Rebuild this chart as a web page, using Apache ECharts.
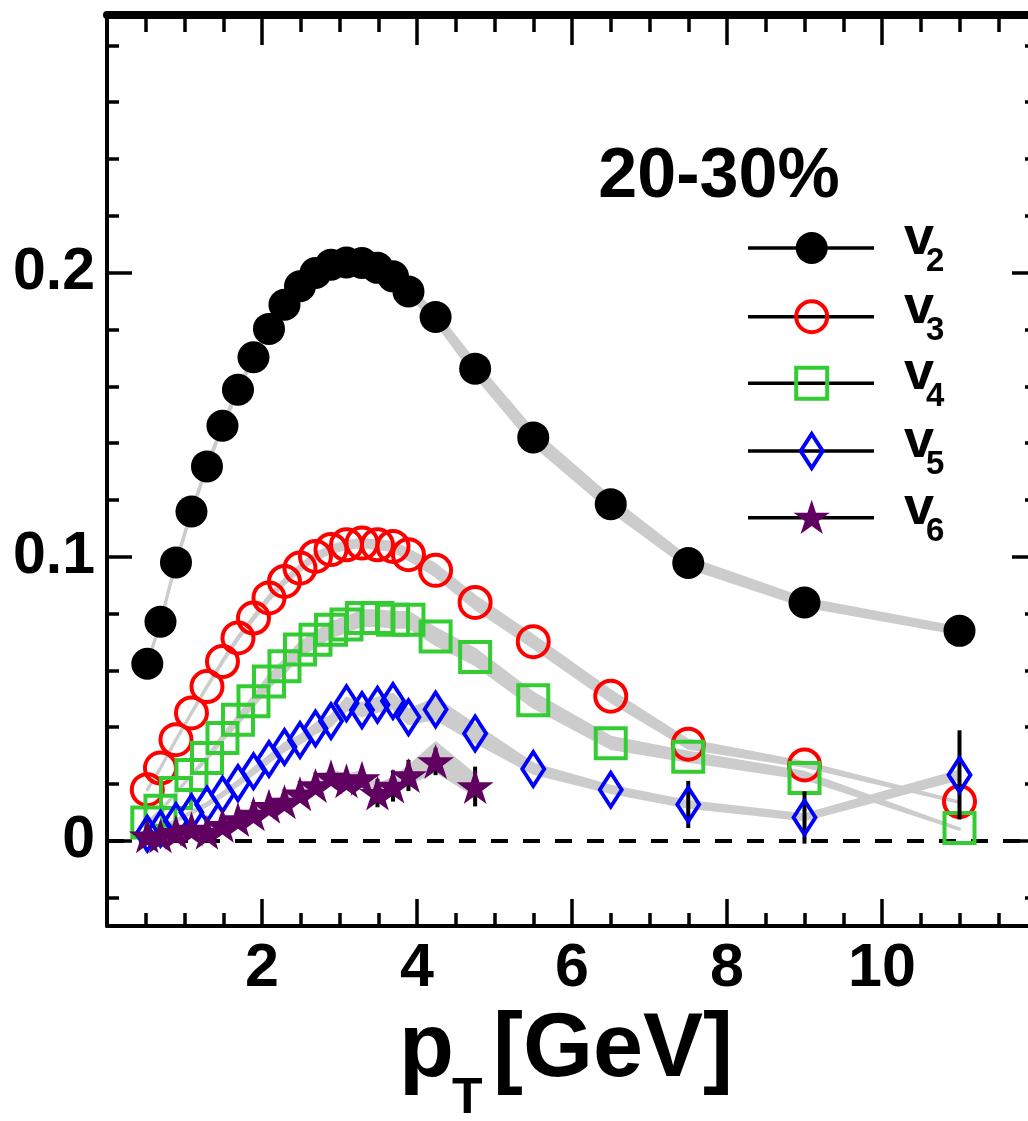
<!DOCTYPE html>
<html>
<head>
<meta charset="utf-8">
<script src="https://cdn.jsdelivr.net/npm/echarts@6/dist/echarts.min.js"></script>
<style>
  html, body { margin: 0; padding: 0; background: #fff; }
  #chart { width: 1028px; height: 1121px; }
</style>
</head>
<body>
<div id="chart"></div>
<script>
// ---- data: flow harmonics v_n(pT), 20-30% centrality ----
// mean pT of each bin [GeV]
const pt = [0.52, 0.69, 0.89, 1.09, 1.29, 1.49, 1.69, 1.89, 2.09, 2.29, 2.49, 2.69, 2.89,
            3.09, 3.29, 3.49, 3.69, 3.89, 4.24, 4.75, 5.5, 6.5, 7.5, 9.0, 11.0];
const ptV6 = [0.52, 0.69, 0.89, 1.09, 1.29, 1.49, 1.69, 1.89, 2.09, 2.29, 2.49, 2.69, 2.89,
              3.09, 3.29, 3.49, 3.69, 3.89, 4.24, 4.75];

const v2 = [0.0623, 0.0771, 0.0980, 0.1159, 0.1318, 0.1461, 0.1588, 0.1702, 0.1802, 0.1887,
            0.1952, 0.1999, 0.2028, 0.2036, 0.2034, 0.2017, 0.1987, 0.1934, 0.1844, 0.1662,
            0.1420, 0.1185, 0.0978, 0.0839, 0.0739];
const v3 = [0.0180, 0.0256, 0.0356, 0.0450, 0.0543, 0.0631, 0.0714, 0.0784, 0.0855, 0.0913,
            0.0960, 0.1001, 0.1025, 0.1042, 0.1048, 0.1042, 0.1036, 0.1007, 0.0952, 0.0839,
            0.0701, 0.0509, 0.0340, 0.0267, 0.0138];
const v4 = [0.0064, 0.0106, 0.0168, 0.0232, 0.0291, 0.0362, 0.0426, 0.0491, 0.0561, 0.0614,
            0.0673, 0.0708, 0.0743, 0.0761, 0.0784, 0.0784, 0.0778, 0.0778, 0.0719, 0.0647,
            0.0495, 0.0343, 0.0296, 0.0221, 0.0045];
const v5 = [0.0025, 0.0042, 0.0070, 0.0100, 0.0128, 0.0163, 0.0203, 0.0245, 0.0288, 0.0330,
            0.0355, 0.0395, 0.0422, 0.0484, 0.0460, 0.0479, 0.0492, 0.0435, 0.0462, 0.0378,
            0.0253, 0.0180, 0.0128, 0.0082, 0.0232];
const v6 = [0.0018, 0.0018, 0.0030, 0.0042, 0.0030, 0.0055, 0.0075, 0.0095, 0.0122, 0.0137,
            0.0166, 0.0195, 0.0225, 0.0211, 0.0220, 0.0168, 0.0193, 0.0230, 0.0279, 0.0191];

// statistical errors (0 = smaller than the marker)
const v5Err = [0, 0, 0, 0, 0, 0, 0, 0, 0, 0, 0, 0, 0, 0, 0, 0, 0, 0, 0, 0, 0, 0, 0.0083, 0.0092, 0.0157];
const v6Err = [0, 0, 0, 0, 0, 0, 0, 0, 0, 0, 0, 0, 0, 0, 0, 0.0050, 0.0055, 0.0055, 0.0048, 0.0070];

// model calculations: [pT, lower, upper]
const v2Band = [[0.52, 0.0620, 0.0624], [0.69, 0.0768, 0.0774], [0.89, 0.0977, 0.0983],
  [1.09, 0.1155, 0.1163], [1.29, 0.1314, 0.1322], [1.49, 0.1456, 0.1466], [1.69, 0.1583, 0.1593],
  [1.89, 0.1697, 0.1707], [2.09, 0.1797, 0.1807], [2.29, 0.1881, 0.1893], [2.49, 0.1946, 0.1958],
  [2.69, 0.1992, 0.2006], [2.89, 0.2021, 0.2035], [3.09, 0.2028, 0.2044], [3.29, 0.2026, 0.2042],
  [3.49, 0.2008, 0.2026], [3.69, 0.1977, 0.1997], [3.89, 0.1922, 0.1946], [4.24, 0.1826, 0.1862],
  [4.75, 0.1638, 0.1686], [5.5, 0.1395, 0.1445], [6.5, 0.1162, 0.1208], [7.5, 0.0962, 0.0996],
  [9.0, 0.0826, 0.0852], [11.0, 0.0729, 0.0749]];
const v3Band = [[0.52, 0.0179, 0.0181], [0.69, 0.0255, 0.0257], [0.89, 0.0355, 0.0357],
  [1.09, 0.0448, 0.0452], [1.29, 0.0541, 0.0545], [1.49, 0.0628, 0.0634], [1.69, 0.0710, 0.0718],
  [1.89, 0.0779, 0.0789], [2.09, 0.0848, 0.0862], [2.29, 0.0905, 0.0921], [2.49, 0.0951, 0.0969],
  [2.69, 0.0991, 0.1011], [2.89, 0.1014, 0.1036], [3.09, 0.1030, 0.1054], [3.29, 0.1035, 0.1061],
  [3.49, 0.1029, 0.1055], [3.69, 0.1021, 0.1051], [3.89, 0.0990, 0.1024], [4.24, 0.0932, 0.0972],
  [4.75, 0.0817, 0.0861], [5.5, 0.0680, 0.0722], [6.5, 0.0490, 0.0528], [7.5, 0.0326, 0.0354],
  [9.0, 0.0262, 0.0276], [11.0, 0.0135, 0.0137]];
const v4Band = [[0.52, 0.0063, 0.0065], [0.69, 0.0105, 0.0107], [0.89, 0.0167, 0.0169],
  [1.09, 0.0231, 0.0233], [1.29, 0.0287, 0.0295], [1.49, 0.0354, 0.0370], [1.69, 0.0414, 0.0438],
  [1.89, 0.0475, 0.0507], [2.09, 0.0541, 0.0581], [2.29, 0.0592, 0.0636], [2.49, 0.0650, 0.0696],
  [2.69, 0.0684, 0.0732], [2.89, 0.0718, 0.0768], [3.09, 0.0736, 0.0786], [3.29, 0.0758, 0.0810],
  [3.49, 0.0758, 0.0810], [3.69, 0.0752, 0.0804], [3.89, 0.0752, 0.0804], [4.24, 0.0691, 0.0747],
  [4.75, 0.0620, 0.0674], [5.5, 0.0470, 0.0520], [6.5, 0.0325, 0.0365], [7.5, 0.0280, 0.0312],
  [9.0, 0.0219, 0.0241], [11.0, 0.0040, 0.0042]];
const v5Band = [[0.52, 0.0024, 0.0026], [0.69, 0.0041, 0.0043], [0.89, 0.0068, 0.0072],
  [1.09, 0.0097, 0.0103], [1.29, 0.0124, 0.0132], [1.49, 0.0158, 0.0168], [1.69, 0.0196, 0.0210],
  [1.89, 0.0236, 0.0254], [2.09, 0.0278, 0.0298], [2.29, 0.0318, 0.0342], [2.49, 0.0343, 0.0369],
  [2.69, 0.0380, 0.0410], [2.89, 0.0405, 0.0439], [3.09, 0.0462, 0.0502], [3.29, 0.0440, 0.0482],
  [3.49, 0.0456, 0.0502], [3.69, 0.0468, 0.0516], [3.89, 0.0412, 0.0460], [4.24, 0.0430, 0.0500],
  [4.75, 0.0348, 0.0408], [5.5, 0.0238, 0.0270], [6.5, 0.0170, 0.0192], [7.5, 0.0118, 0.0138],
  [9.0, 0.0074, 0.0092], [11.0, 0.0218, 0.0246]];
const v6Band = [[0.52, 0.0017, 0.0019], [0.69, 0.0017, 0.0019], [0.89, 0.0027, 0.0033],
  [1.09, 0.0036, 0.0044], [1.29, 0.0035, 0.0045], [1.49, 0.0050, 0.0062], [1.69, 0.0066, 0.0084],
  [1.89, 0.0084, 0.0106], [2.09, 0.0107, 0.0135], [2.29, 0.0122, 0.0154], [2.49, 0.0148, 0.0184],
  [2.69, 0.0174, 0.0214], [2.89, 0.0200, 0.0246], [3.09, 0.0186, 0.0232], [3.29, 0.0194, 0.0242],
  [3.49, 0.0142, 0.0196], [3.69, 0.0165, 0.0221], [3.89, 0.0200, 0.0260], [4.24, 0.0245, 0.0345],
  [4.75, 0.0160, 0.0230]];

// axis ticks
const yMajor = [0, 0.1, 0.2];
const yMinor = [-0.02, 0.02, 0.04, 0.06, 0.08, 0.12, 0.14, 0.16, 0.18, 0.22, 0.24, 0.26, 0.28];

const legendNames = ['2', '3', '4', '5', '6'];

// ---- styling ----
const FONT = '"Liberation Sans", Arial, Helvetica, sans-serif';
const GRAY = '#cccccc';
const COL = { v2: '#000000', v3: '#ff0000', v4: '#33cc33', v5: '#0000ff', v6: '#600060' };
const STAR = 'path://M50 0 L61.2 34.5 L97.6 34.5 L68.2 55.9 L79.4 90.5 L50 69.1 L20.6 90.5 L31.8 55.9 L2.4 34.5 L38.8 34.5 Z';

const chart = echarts.init(document.getElementById('chart'), null, { renderer: 'canvas' });

function pairs(xs, ys) { return xs.map((x, i) => [x, ys[i]]); }

function bandSeries(band) {
  return {
    type: 'custom', data: band, encode: { x: 0, y: [1, 2] }, z: 2, silent: true,
    renderItem: function (params, api) {
      if (params.dataIndex !== 0) return null;
      const upper = band.map(p => api.coord([p[0], p[2]]));
      const lower = band.map(p => api.coord([p[0], p[1]])).reverse();
      return {
        type: 'polygon',
        shape: { points: upper.concat(lower) },
        style: { fill: GRAY, stroke: GRAY, lineWidth: 3, lineJoin: 'round' }
      };
    }
  };
}

function errSeries(xs, ys, errs, z) {
  return {
    type: 'custom', data: xs.map((x, i) => [x, ys[i], errs[i]]), encode: { x: 0, y: 1 }, z: z, silent: true,
    renderItem: function (params, api) {
      const e = api.value(2);
      if (!e) return null;
      const a = api.coord([api.value(0), api.value(1) - e]);
      const b = api.coord([api.value(0), api.value(1) + e]);
      return { type: 'line', shape: { x1: a[0], y1: a[1], x2: b[0], y2: b[1] },
               style: { stroke: '#000', lineWidth: 4 } };
    }
  };
}

function markerSeries(data, symbol, size, itemStyle, z) {
  return { type: 'scatter', data: data, symbol: symbol, symbolSize: size,
           itemStyle: Object.assign({ opacity: 1 }, itemStyle), z: z, silent: true };
}

const tickStyle = { color: '#000', width: 3.5 };
const yBase = { type: 'value', min: -0.03, max: 0.29, splitLine: { show: false } };
const xBase = { type: 'value', min: 0, max: 12, interval: 2, splitLine: { show: false }, minorSplitLine: { show: false } };

// ---- legend and annotations ----
const LEG_X1 = 748, LEG_X2 = 874, LEG_MX = 811.7;
const legendRows = [248, 316.7, 383.3, 451, 517.7];
const graphics = [];
graphics.push({ type: 'text', x: 719, y: 178, z: 100,
  style: { text: '20-30%', font: 'bold 70px ' + FONT, fill: '#000', align: 'center', verticalAlign: 'middle' } });

function starPoints(cx, cy, R) {
  const pts = [];
  for (let k = 0; k < 10; k++) {
    const r = k % 2 === 0 ? R : R * 0.382;
    const a = Math.PI * k / 5;
    pts.push([cx + r * Math.sin(a), cy - r * Math.cos(a)]);
  }
  return pts;
}

legendRows.forEach((yy, i) => {
  graphics.push({ type: 'line', z: 100, shape: { x1: LEG_X1, y1: yy, x2: LEG_X2, y2: yy },
    style: { stroke: '#000', lineWidth: 3.5 } });
  let m;
  if (i === 0) m = { type: 'circle', shape: { cx: LEG_MX, cy: yy, r: 16 }, style: { fill: COL.v2 } };
  if (i === 1) m = { type: 'circle', shape: { cx: LEG_MX, cy: yy, r: 15.5 }, style: { fill: 'none', stroke: COL.v3, lineWidth: 4 } };
  if (i === 2) m = { type: 'rect', shape: { x: LEG_MX - 15.5, y: yy - 15.5, width: 31, height: 31 }, style: { fill: 'none', stroke: COL.v4, lineWidth: 4 } };
  if (i === 3) m = { type: 'polygon', shape: { points: [[LEG_MX, yy - 17], [LEG_MX + 11, yy], [LEG_MX, yy + 17], [LEG_MX - 11, yy]] },
                     style: { fill: 'none', stroke: COL.v5, lineWidth: 4 } };
  if (i === 4) m = { type: 'polygon', shape: { points: starPoints(LEG_MX, yy + 1, 19) }, style: { fill: COL.v6 } };
  m.z = 101;
  graphics.push(m);
  graphics.push({ type: 'text', x: 904, y: yy - 9, z: 100,
    style: { text: 'v', font: 'bold 54px ' + FONT, fill: '#000', align: 'left', verticalAlign: 'middle' } });
  graphics.push({ type: 'text', x: 926, y: yy + 14, z: 100,
    style: { text: legendNames[i], font: 'bold 33px ' + FONT, fill: '#000', align: 'left', verticalAlign: 'middle' } });
});

// x-axis title: p_T [GeV]
graphics.push({ type: 'text', x: 399, y: 1051, z: 100,
  style: { text: 'p', font: 'bold 90px ' + FONT, fill: '#000', align: 'left', verticalAlign: 'middle' } });
graphics.push({ type: 'text', x: 452, y: 1099, z: 100,
  style: { text: 'T', font: 'bold 50px ' + FONT, fill: '#000', align: 'left', verticalAlign: 'middle' } });
graphics.push({ type: 'text', x: 493, y: 1051, z: 100,
  style: { text: '[GeV]', font: 'bold 90px ' + FONT, fill: '#000', align: 'left', verticalAlign: 'middle' } });

const option = {
  animation: false,
  backgroundColor: '#fff',
  grid: { left: 107, top: 17, width: 930, height: 909, containLabel: false, outerBoundsMode: 'none' },
  xAxis: [
    Object.assign({}, xBase, {
      position: 'bottom',
      axisLine: { onZero: false, lineStyle: { color: '#000', width: 4 } },
      axisTick: { inside: true, length: 27, lineStyle: tickStyle },
      minorTick: { show: true, splitNumber: 4, length: 13, lineStyle: tickStyle },
      axisLabel: { margin: 13, color: '#000', fontFamily: FONT, fontWeight: 'bold', fontSize: 61,
                   formatter: v => (v === 0 || v === 12) ? '' : String(v) }
    }),
    Object.assign({}, xBase, {
      position: 'top', offset: 2,
      axisLine: { onZero: false, lineStyle: { color: '#000', width: 8 } },
      axisTick: { inside: true, length: 30, lineStyle: tickStyle },
      minorTick: { show: true, splitNumber: 4, length: 17, lineStyle: tickStyle },
      axisLabel: { show: false }
    })
  ],
  yAxis: [
    Object.assign({}, yBase, {
      position: 'left',
      axisLine: { show: true, onZero: false, lineStyle: { color: '#000', width: 4 } },
      axisTick: { inside: true, length: 25, customValues: yMajor, lineStyle: tickStyle },
      axisLabel: { customValues: yMajor, margin: 12, color: '#000', fontFamily: FONT, fontWeight: 'bold', fontSize: 59,
                   formatter: v => v === 0 ? '0' : v.toFixed(1) }
    }),
    Object.assign({}, yBase, {
      position: 'left',
      axisLine: { show: false, onZero: false },
      axisTick: { inside: true, length: 12, customValues: yMinor, lineStyle: tickStyle },
      axisLabel: { show: false }
    }),
    Object.assign({}, yBase, {
      position: 'right',
      axisLine: { show: true, onZero: false, lineStyle: { color: '#000', width: 4 } },
      axisTick: { inside: true, length: 25, customValues: yMajor, lineStyle: tickStyle },
      axisLabel: { show: false }
    }),
    Object.assign({}, yBase, {
      position: 'right',
      axisLine: { show: false, onZero: false },
      axisTick: { inside: true, length: 12, customValues: yMinor, lineStyle: tickStyle },
      axisLabel: { show: false }
    })
  ],
  graphic: graphics,
  series: [
    Object.assign(bandSeries(v2Band), {
      markLine: {
        silent: true, symbol: ['none', 'none'], label: { show: false },
        lineStyle: { type: [17, 15], width: 4, color: '#000' },
        data: [{ yAxis: 0 }]
      }
    }),
    bandSeries(v3Band),
    bandSeries(v4Band),
    bandSeries(v5Band),
    bandSeries(v6Band),
    markerSeries(pairs(pt, v2), 'circle', 32, { color: COL.v2 }, 10),
    markerSeries(pairs(pt, v3), 'circle', 31, { color: 'rgba(0,0,0,0)', borderColor: COL.v3, borderWidth: 4 }, 11),
    markerSeries(pairs(pt, v4), 'rect', 30, { color: 'rgba(0,0,0,0)', borderColor: COL.v4, borderWidth: 4 }, 12),
    errSeries(pt, v5, v5Err, 13),
    markerSeries(pairs(pt, v5), 'diamond', [22, 34], { color: 'rgba(0,0,0,0)', borderColor: COL.v5, borderWidth: 4 }, 14),
    errSeries(ptV6, v6, v6Err, 15),
    markerSeries(pairs(ptV6, v6), STAR, [37, 35], { color: COL.v6 }, 16)
  ]
};

chart.setOption(option);
</script>
</body>
</html>
